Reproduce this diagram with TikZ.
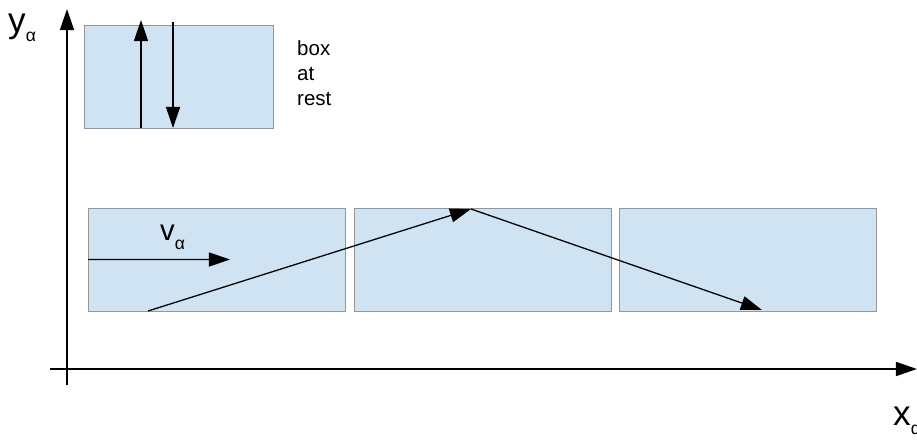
\documentclass[tikz,border=0pt]{standalone}
\usepackage{fontspec}
\setmainfont{Liberation Sans}
\usetikzlibrary{
  positioning,
  arrows.meta,
}
\definecolor{boxblue}{RGB}{207,227,242}
\definecolor{boxedge}{RGB}{150,150,150}
\tikzset{
  restcell/.style = {
    rectangle,
    draw = boxedge,
    fill = boxblue,
    line width = 0.7pt,
    inner sep = 0pt,
    outer sep = 0pt,
    minimum width = 5.67cm,
    minimum height = 3.09cm
  },
  movecell/.style = {
    restcell,
    minimum width = 7.71cm
  },
  vec/.style = {
    -{Triangle[length = 18pt, width = 12pt]},
    line width = 1.1pt
  },
  axis/.style = {
    vec,
    line width = 1.3pt
  },
  label/.style = {
    inner sep = 0pt,
    anchor = base west
  },
}
\newcommand{\lowsub}[1]{{\fontsize{15}{15}\selectfont\raisebox{-8pt}{#1}}}

\begin{document}
\begin{tikzpicture}[x = 0.03cm, y = -0.03cm]
  \useasboundingbox (0,0) rectangle (917,439);
  \node[restcell, anchor = north west] (rest) at (84,25) {};
  \node[movecell, anchor = north west] (B1) at (88,208) {};
  \node[movecell, right = 0.27cm of B1] (B2) {};
  \node[movecell, right = 0.24cm of B2] (B3) {};
  \node[label, anchor = north west, align = left,
    font = \fontsize{17.5}{21.5}\selectfont] (restnote) at (297,40) {box\\at\\rest};
  \node[label, font = \fontsize{30}{30}\selectfont] (ylab) at (8,32) {y\lowsub{α}};
  \node[label, font = \fontsize{30}{30}\selectfont] (xlab) at (893,425) {x\lowsub{α}};
  \node[label, font = \fontsize{25}{25}\selectfont] (vlab) at (160,240) {v\lowsub{α}};
  \coordinate (ybot) at (67,385);
  \coordinate (ytop) at (67,9);
  \coordinate (xleft) at (50,369);
  \coordinate (xright) at (917,369);
  \coordinate (upfoot) at (141,128);
  \coordinate (uptip) at (141,20);
  \coordinate (downfoot) at (173,22);
  \coordinate (downtip) at (173,128);
  \coordinate (vfoot) at (B1.west);
  \coordinate (vtip) at (230,259.5);
  \coordinate (start) at (148,311);
  \coordinate (apex) at (471,209);
  \coordinate (finish) at (762,310);
  \draw[axis] (ybot) -- (ytop);
  \draw[axis] (xleft) -- (xright);
  \draw[vec] (upfoot) -- (uptip);
  \draw[vec] (downfoot) -- (downtip);
  \draw[vec] (vfoot) -- (vtip);
  \draw[vec] (start) -- (apex);
  \draw[vec] (apex) -- (finish);
\end{tikzpicture}
\end{document}
